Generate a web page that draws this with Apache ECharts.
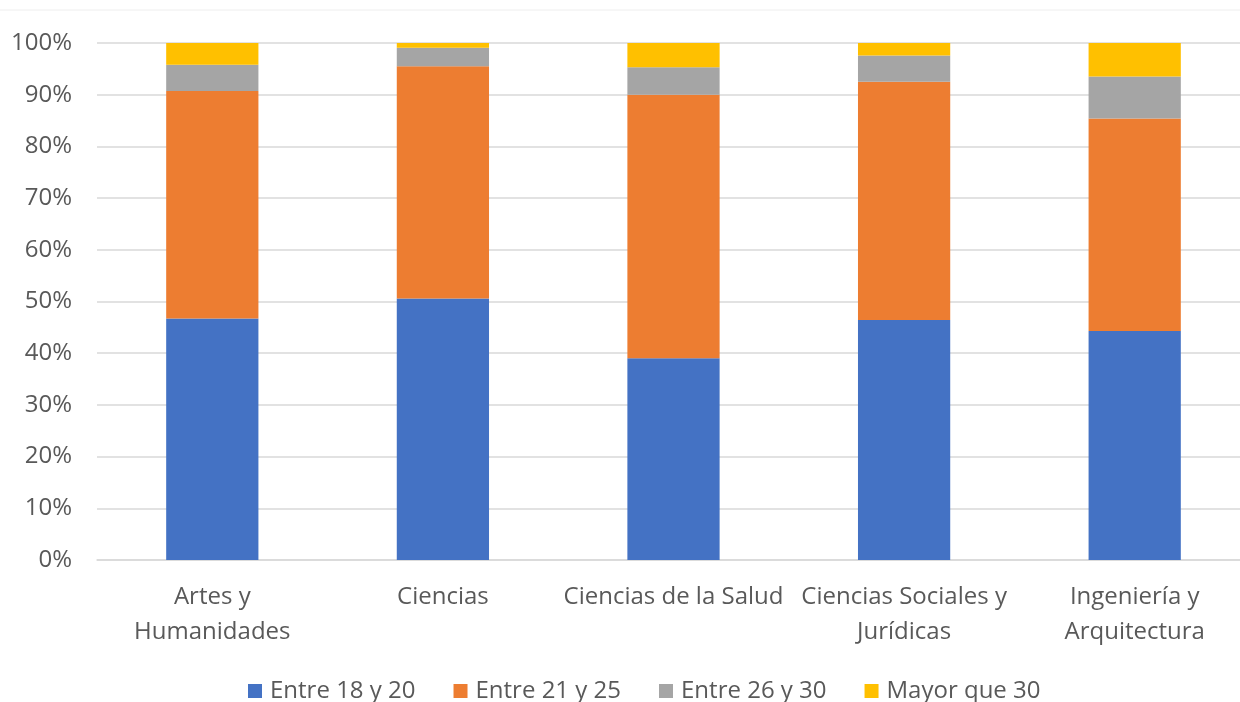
<!DOCTYPE html>
<html>
<head>
<meta charset="utf-8">
<script src="https://cdn.jsdelivr.net/npm/echarts@6/dist/echarts.min.js"></script>
<style>
  html, body { margin: 0; padding: 0; background: #ffffff; }
  #chart { width: 1240px; height: 702px; }
</style>
</head>
<body>
<div id="chart"></div>
<script>
// Distribución por edad (%) en cada rama de conocimiento
const categories = [
  'Artes y\nHumanidades',
  'Ciencias',
  'Ciencias de la Salud',
  'Ciencias Sociales y\nJurídicas',
  'Ingeniería y\nArquitectura'
];
const seriesNames = ['Entre 18 y 20', 'Entre 21 y 25', 'Entre 26 y 30', 'Mayor que 30'];
const entre18y20 = [46.7, 50.6, 39.0, 46.4, 44.3];
const entre21y25 = [44.0, 44.9, 51.0, 46.1, 41.1];
const entre26y30 = [5.1, 3.6, 5.3, 5.1, 8.1];
const mayorQue30 = [4.2, 0.9, 4.7, 2.4, 6.5];
const yTicks = [0, 10, 20, 30, 40, 50, 60, 70, 80, 90, 100];

const colors = ['#4472C4', '#ED7D31', '#A5A5A5', '#FFC000'];
const values = [entre18y20, entre21y25, entre26y30, mayorQue30];
const FONT = '"Open Sans", "Noto Sans", sans-serif';
const TEXT = '#595959';

const chart = echarts.init(document.getElementById('chart'), null, { renderer: 'canvas' });

chart.setOption({
  animation: false,
  backgroundColor: '#ffffff',
  color: colors,
  textStyle: { fontFamily: FONT },
  graphic: [{
    type: 'line',
    shape: { x1: 0, y1: 10, x2: 1240, y2: 10 },
    style: { stroke: '#eeeeee', lineWidth: 1 }
  }],
  grid: {
    left: 97,
    right: -10,
    top: 43,
    bottom: 142,
    outerBoundsMode: 'none'
  },
  legend: {
    bottom: -6,
    left: 243,
    icon: 'rect',
    itemWidth: 14,
    itemHeight: 14,
    itemGap: 38,
    data: seriesNames,
    textStyle: { color: TEXT, fontSize: 24, fontFamily: FONT, padding: [0, 0, 0, 3] }
  },
  xAxis: {
    type: 'category',
    data: categories,
    axisTick: { show: false },
    axisLine: { show: true, lineStyle: { color: '#d9d9d9', width: 1.5 } },
    axisLabel: {
      color: TEXT,
      fontSize: 24,
      fontFamily: FONT,
      lineHeight: 35,
      margin: 20,
      interval: 0
    }
  },
  yAxis: {
    type: 'value',
    min: 0,
    max: 100,
    interval: 10,
    axisLine: { show: false },
    axisTick: { show: false },
    splitLine: { lineStyle: { color: '#d9d9d9', width: 1.5 } },
    axisLabel: {
      color: TEXT,
      fontSize: 24,
      fontFamily: FONT,
      margin: 25,
      customValues: yTicks,
      formatter: v => v + '%'
    }
  },
  series: seriesNames.map((name, i) => ({
    name,
    type: 'bar',
    stack: 'total',
    barWidth: '40%',
    data: values[i],
    itemStyle: { color: colors[i] }
  }))
});
</script>
</body>
</html>
